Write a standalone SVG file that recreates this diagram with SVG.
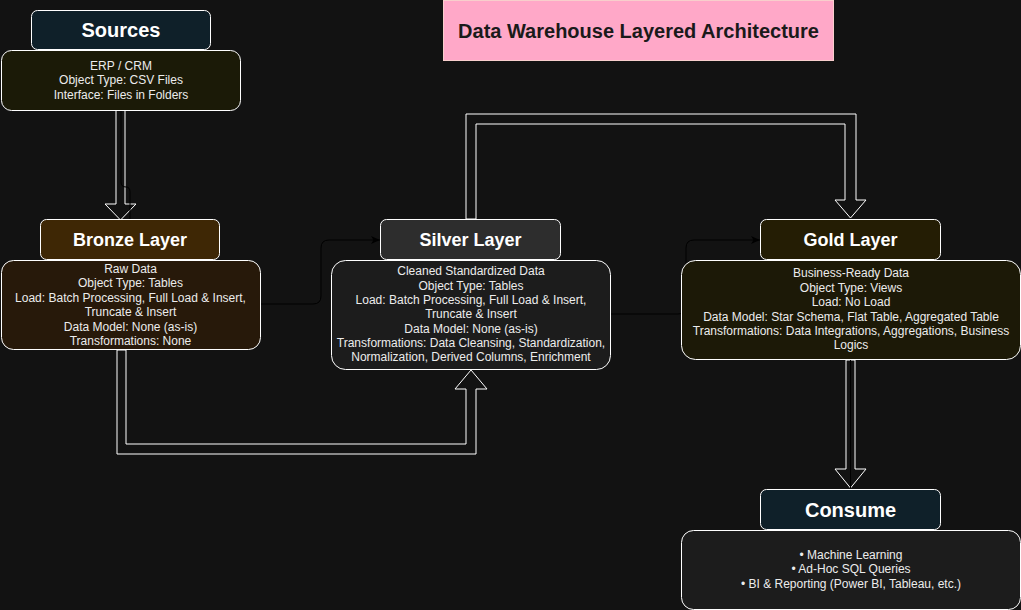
<svg xmlns="http://www.w3.org/2000/svg" width="1021" height="610" viewBox="0 0 1021 610">
<defs>
<style>
.hdr{stroke:#ffffff;stroke-width:1}
.body{stroke:#ffffff;stroke-width:1}
.ht{font-family:"Liberation Sans",Arial,sans-serif;font-weight:bold;fill:#ffffff;text-anchor:middle}
.bt{font-family:"Liberation Sans",Arial,sans-serif;font-size:12px;fill:#ececec;text-anchor:middle}
.block{fill:none;stroke:#ffffff;stroke-width:1;stroke-linejoin:miter}
.thin{fill:none;stroke:#000000;stroke-width:1}
</style>
<marker id="ah" markerWidth="10" markerHeight="10" refX="9" refY="5" orient="auto" markerUnits="userSpaceOnUse">
<path d="M0,1 L9,5 L0,9 L2.5,5 Z" fill="#000000"/>
</marker>
</defs>
<rect x="0" y="0" width="1021" height="610" fill="#121212"/>

<g id="connectors">
<polygon class="block" points="116,110 116,204 105,204 120.5,220 136,204 125,204 125,110"/>
<path class="thin" d="M121,110 L121,182 Q121,187 126,187 Q130,187 130,192 L130,219"/>
<polygon class="block" points="117,350 117,454 476,454 476,389 487,389 471,370 455,389 466,389 466,444 126,444 126,350"/>
<polygon class="block" points="466,219 466,114 856,114 856,200 866,200 850.5,218 835,200 845,200 845,124 476,124 476,219"/>
<polygon class="block" points="846,360 846,469 835,469 850.5,488 866,469 855,469 855,360"/>
<path class="thin" d="M850.5,360 L850.5,488"/>
<path class="thin" d="M260,304 L313,304 Q321,304 321,296 L321,248 Q321,240 329,240 L380,240" marker-end="url(#ah)"/>
<path class="thin" d="M610,314 L678,314 Q686,314 686,306 L686,248 Q686,240 694,240 L760,240" marker-end="url(#ah)"/>
</g>

<g id="title">
<rect x="443.5" y="0.5" width="390" height="60" fill="#ffa8c8" stroke="#f8cecc"/>
<text x="638.5" y="38" font-family="Liberation Sans,Arial,sans-serif" font-weight="bold" font-size="20px" fill="#1a1a1a" text-anchor="middle">Data Warehouse Layered Architecture</text>
</g>

<g id="sources">
<rect class="hdr" x="31.5" y="10.5" width="179" height="39" rx="6" fill="#0f2029"/>
<text class="ht" x="121" y="37" font-size="20px">Sources</text>
<rect class="body" x="1.5" y="50.5" width="239" height="60" rx="10" fill="#1b1a07"/>
<text class="bt" x="121" y="70">ERP / CRM</text>
<text class="bt" x="121" y="84">Object Type: CSV Files</text>
<text class="bt" x="121" y="98.5">Interface: Files in Folders</text>
</g>

<g id="bronze">
<rect class="hdr" x="40.5" y="219.5" width="179" height="40" rx="6" fill="#3e2705"/>
<text class="ht" x="130" y="245.5" font-size="18px">Bronze Layer</text>
<rect class="body" x="1.5" y="260.5" width="259" height="89" rx="12" fill="#27190a"/>
<text class="bt" x="130.5" y="272.5">Raw Data</text>
<text class="bt" x="130.5" y="287">Object Type: Tables</text>
<text class="bt" x="130.5" y="301.5">Load: Batch Processing, Full Load &amp; Insert,</text>
<text class="bt" x="130.5" y="316">Truncate &amp; Insert</text>
<text class="bt" x="130.5" y="330.5">Data Model: None (as-is)</text>
<text class="bt" x="130.5" y="344.5">Transformations: None</text>
</g>

<g id="silver">
<rect class="hdr" x="380.5" y="219.5" width="180" height="40" rx="6" fill="#2d2d2d"/>
<text class="ht" x="470.5" y="245.5" font-size="18px">Silver Layer</text>
<rect class="body" x="331.5" y="260.5" width="279" height="109" rx="14" fill="#1c1c1c"/>
<text class="bt" x="471" y="275">Cleaned Standardized Data</text>
<text class="bt" x="471" y="289.5">Object Type: Tables</text>
<text class="bt" x="471" y="304">Load: Batch Processing, Full Load &amp; Insert,</text>
<text class="bt" x="471" y="318">Truncate &amp; Insert</text>
<text class="bt" x="471" y="332.5">Data Model: None (as-is)</text>
<text class="bt" x="471" y="347">Transformations: Data Cleansing, Standardization,</text>
<text class="bt" x="471" y="361">Normalization, Derived Columns, Enrichment</text>
</g>

<g id="gold">
<rect class="hdr" x="760.5" y="219.5" width="180" height="40" rx="6" fill="#241d04"/>
<text class="ht" x="850.5" y="245.5" font-size="18px">Gold Layer</text>
<rect class="body" x="681.5" y="260.5" width="339" height="99" rx="14" fill="#1c1907"/>
<text class="bt" x="851" y="277">Business-Ready Data</text>
<text class="bt" x="851" y="291.5">Object Type: Views</text>
<text class="bt" x="851" y="305.5">Load: No Load</text>
<text class="bt" x="851" y="320.5">Data Model: Star Schema, Flat Table, Aggregated Table</text>
<text class="bt" x="851" y="335">Transformations: Data Integrations, Aggregations, Business</text>
<text class="bt" x="851" y="349">Logics</text>
</g>

<g id="consume">
<rect class="hdr" x="760.5" y="489.5" width="180" height="40" rx="6" fill="#0f2029"/>
<text class="ht" x="850.5" y="516.5" font-size="20px">Consume</text>
<rect class="body" x="681.5" y="530.5" width="339" height="79" rx="12" fill="#1c1c1c"/>
<text class="bt" x="851" y="559">• Machine Learning</text>
<text class="bt" x="851" y="573">• Ad-Hoc SQL Queries</text>
<text class="bt" x="851" y="587.5">• BI &amp; Reporting (Power BI, Tableau, etc.)</text>
</g>
</svg>
